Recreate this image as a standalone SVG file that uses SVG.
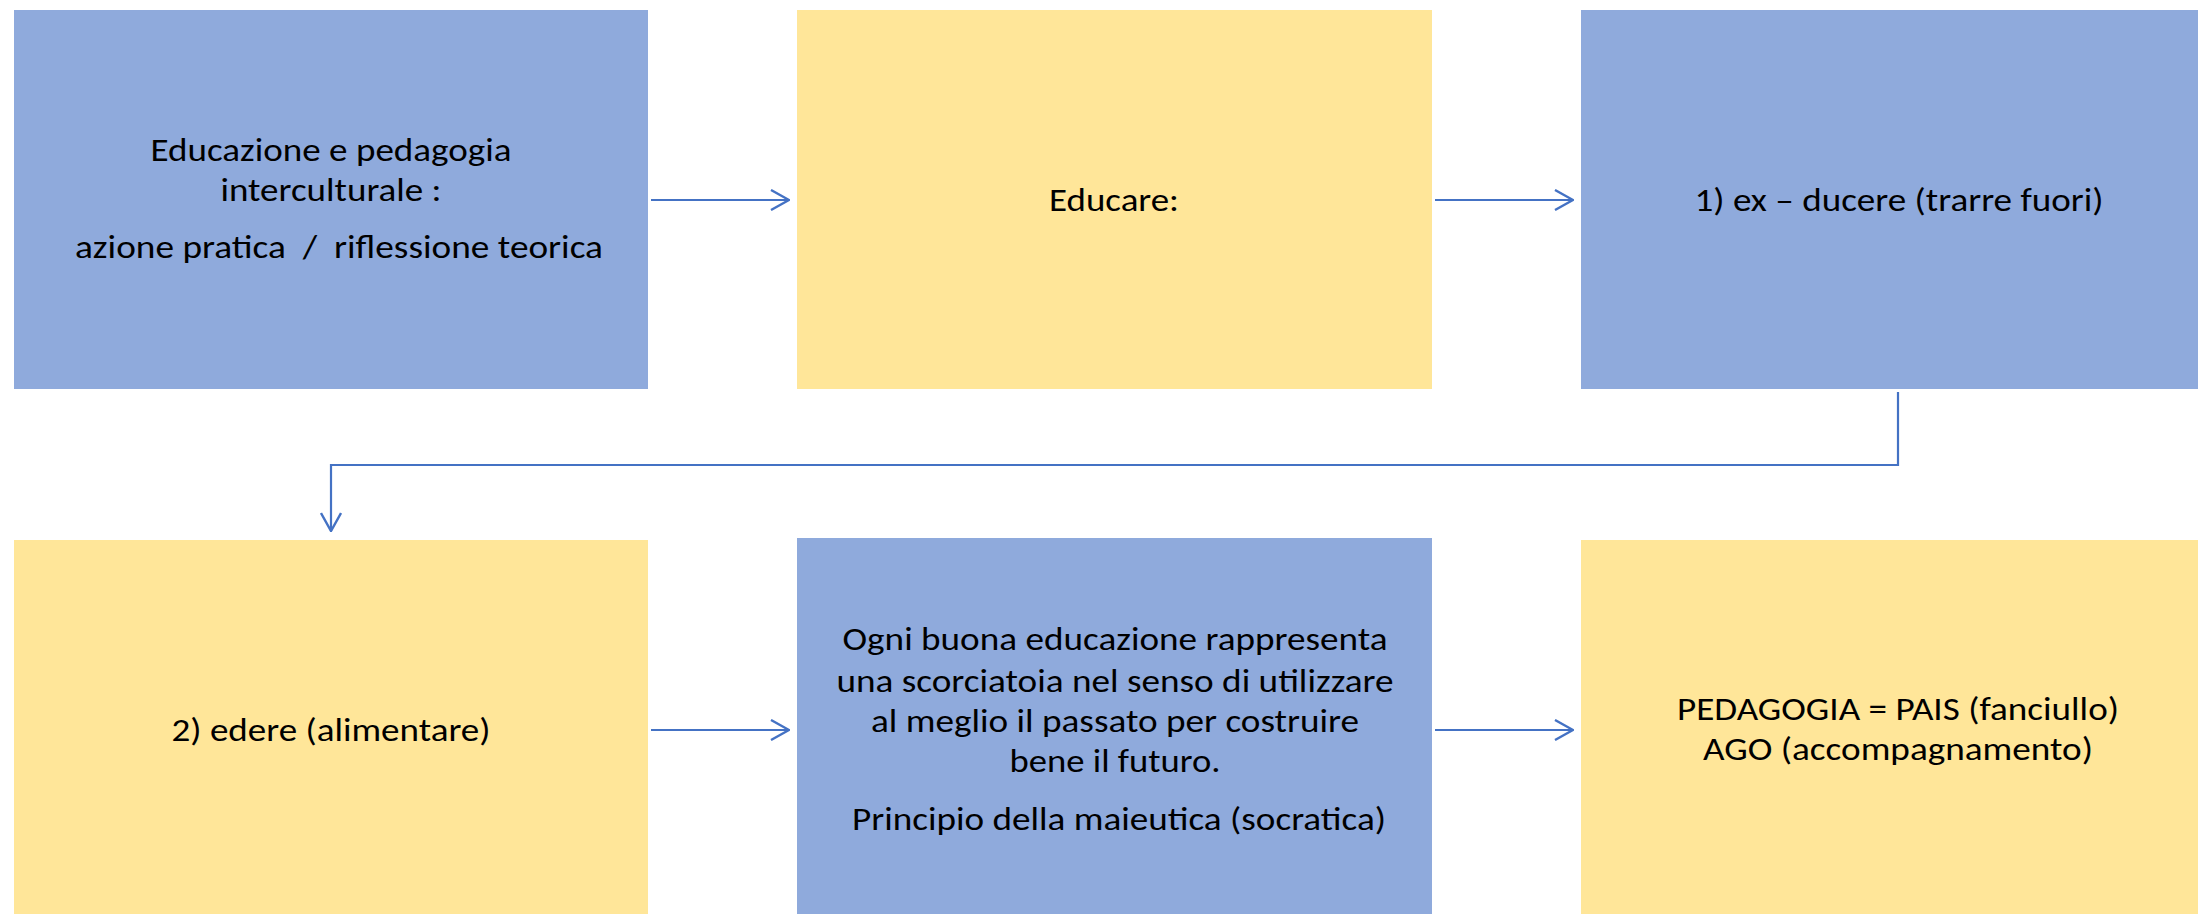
<svg xmlns="http://www.w3.org/2000/svg" width="2198" height="914" viewBox="0 0 2198 914">
<defs>
<style>
.blue{fill:#8FAADC}
.yellow{fill:#FFE699}
.t{font-family:Carlito,Lato,"Liberation Sans",sans-serif;font-size:33px;fill:#000;text-anchor:middle}
.c{fill:none;stroke:#4472C4;stroke-width:2.2}
</style>
<marker id="arr" viewBox="0 0 20 22" refX="19" refY="11" markerWidth="20" markerHeight="22" markerUnits="userSpaceOnUse" orient="auto">
<path d="M1,1 L19,11 L1,21" fill="none" stroke="#4472C4" stroke-width="2.4"/>
</marker>
</defs>
<rect width="2198" height="914" fill="#fff"/>
<g id="n1">
<rect class="blue" x="14" y="10" width="634" height="379"/>
<text class="t" x="331" y="161" textLength="361" lengthAdjust="spacingAndGlyphs">Educazione e pedagogia</text>
<text class="t" x="331" y="201" textLength="221" lengthAdjust="spacingAndGlyphs">interculturale :</text>
<text class="t" x="339" y="258" textLength="528" lengthAdjust="spacingAndGlyphs" xml:space="preserve">azione pratica  /  riflessione teorica</text>
</g>
<g id="n2">
<rect class="yellow" x="797" y="10" width="635" height="379"/>
<text class="t" x="1114" y="211" textLength="130" lengthAdjust="spacingAndGlyphs">Educare:</text>
</g>
<g id="n3">
<rect class="blue" x="1581" y="10" width="617" height="379"/>
<text class="t" x="1899" y="211" textLength="409" lengthAdjust="spacingAndGlyphs">1) ex – ducere (trarre fuori)</text>
</g>
<g id="n4">
<rect class="yellow" x="14" y="540" width="634" height="374"/>
<text class="t" x="331" y="741" textLength="319" lengthAdjust="spacingAndGlyphs">2) edere (alimentare)</text>
</g>
<g id="n5">
<rect class="blue" x="797" y="538" width="635" height="376"/>
<text class="t" x="1115" y="650" textLength="545" lengthAdjust="spacingAndGlyphs">Ogni buona educazione rappresenta</text>
<text class="t" x="1115" y="692" textLength="557" lengthAdjust="spacingAndGlyphs">una scorciatoia nel senso di utilizzare</text>
<text class="t" x="1115" y="732" textLength="488" lengthAdjust="spacingAndGlyphs">al meglio il passato per costruire</text>
<text class="t" x="1115" y="772" textLength="211" lengthAdjust="spacingAndGlyphs">bene il futuro.</text>
<text class="t" x="1119" y="830" textLength="534" lengthAdjust="spacingAndGlyphs">Principio della maieutica (socratica)</text>
</g>
<g id="n6">
<rect class="yellow" x="1581" y="540" width="617" height="374"/>
<text class="t" x="1898" y="720" textLength="442" lengthAdjust="spacingAndGlyphs">PEDAGOGIA = PAIS (fanciullo)</text>
<text class="t" x="1898" y="760" textLength="390" lengthAdjust="spacingAndGlyphs">AGO (accompagnamento)</text>
</g>
<g id="connectors">
<line class="c" x1="651" y1="200" x2="789" y2="200" marker-end="url(#arr)"/>
<line class="c" x1="1435" y1="200" x2="1573" y2="200" marker-end="url(#arr)"/>
<polyline class="c" points="1898,392 1898,465 331,465 331,531" marker-end="url(#arr)"/>
<line class="c" x1="651" y1="730" x2="789" y2="730" marker-end="url(#arr)"/>
<line class="c" x1="1435" y1="730" x2="1573" y2="730" marker-end="url(#arr)"/>
</g>
</svg>
